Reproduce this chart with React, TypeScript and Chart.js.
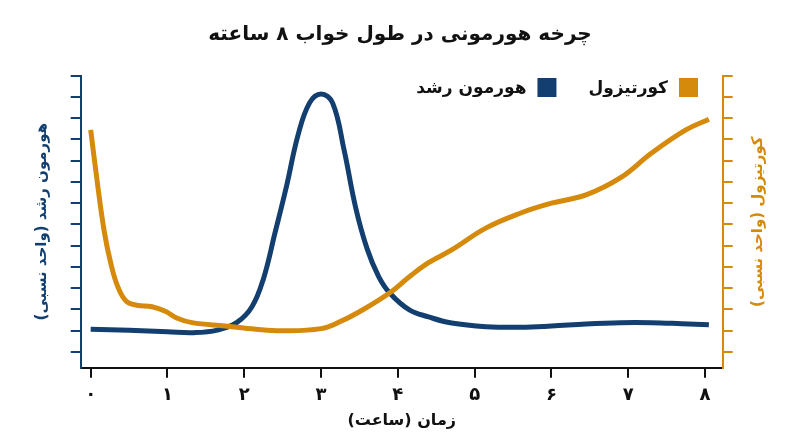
import { useEffect, useRef } from "react";
import { Chart, registerables } from "chart.js";

Chart.register(...registerables);

const GH_COLOR = "#123f6f";
const CORT_COLOR = "#d58a0b";
const INK = "#111111";
const FONT = '"DejaVu Sans", sans-serif';

const chartTitle = "چرخه هورمونی در طول خواب ۸ ساعته";
const xTitle = "زمان (ساعت)";
const leftTitle = "هورمون رشد (واحد نسبی)";
const rightTitle = "کورتیزول (واحد نسبی)";
const ghLabel = "هورمون رشد";
const cortLabel = "کورتیزول";

const hourTicks = [0, 1, 2, 3, 4, 5, 6, 7, 8];
const hourLabels = ["۰", "۱", "۲", "۳", "۴", "۵", "۶", "۷", "۸"];
const levelTicks = [0, 1, 2, 3, 4, 5, 6, 7, 8, 9, 10, 11, 12, 13];

// growth hormone (relative units)
const ghHours = [0, 0.5, 1.0, 1.35, 1.65, 1.9, 2.1, 2.25, 2.4, 2.55, 2.7, 2.85, 3.0, 3.15, 3.3, 3.45, 3.6, 3.75, 3.9, 4.15, 4.4, 4.7, 5.15, 5.6, 6.0, 6.45, 6.9, 7.3, 7.7, 8.05];
const ghValues = [1.07, 1.02, 0.95, 0.91, 1.03, 1.38, 2.13, 3.45, 5.6, 7.8, 10.2, 11.72, 12.14, 11.72, 9.5, 6.8, 4.85, 3.55, 2.75, 1.98, 1.65, 1.36, 1.19, 1.16, 1.22, 1.32, 1.38, 1.38, 1.33, 1.28];

// cortisol (relative units)
const cortHours = [0, 0.1, 0.18, 0.26, 0.35, 0.46, 0.6, 0.8, 0.98, 1.12, 1.32, 1.75, 2.15, 2.5, 3.0, 3.25, 3.55, 3.9, 4.15, 4.4, 4.7, 5.15, 5.6, 6.0, 6.45, 6.9, 7.3, 7.75, 8.05];
const cortValues = [10.45, 7.6, 5.6, 4.2, 3.1, 2.4, 2.2, 2.13, 1.9, 1.6, 1.38, 1.22, 1.07, 1.0, 1.1, 1.43, 2.0, 2.8, 3.54, 4.2, 4.8, 5.84, 6.54, 7.0, 7.39, 8.2, 9.35, 10.45, 10.95];

const toPoints = (xs: number[], ys: number[]) => xs.map((x, i) => ({ x, y: ys[i] }));

// right title (rotated like the left one) and the rtl legend inside the plot
const extrasPlugin = {
  id: "extras",
  afterDraw(chart: any) {
    const { ctx, chartArea } = chart;
    ctx.save();
    ctx.font = `bold 15px ${FONT}`;
    ctx.fillStyle = CORT_COLOR;
    ctx.textAlign = "center";
    ctx.textBaseline = "middle";
    ctx.translate(758, (chartArea.top + chartArea.bottom) / 2);
    ctx.rotate(-Math.PI / 2);
    ctx.fillText(rightTitle, 0, 0);
    ctx.restore();

    ctx.save();
    ctx.font = `bold 17px ${FONT}`;
    ctx.textAlign = "right";
    ctx.textBaseline = "middle";
    let x = 698;
    const box = 19;
    const top = 78;
    chart.data.datasets.forEach((ds: any) => {
      ctx.fillStyle = ds.borderColor;
      ctx.fillRect(x - box, top, box, box);
      ctx.fillStyle = INK;
      const tx = x - box - 11;
      ctx.fillText(ds.label, tx, top + box / 2 + 1);
      x = tx - ctx.measureText(ds.label).width - 32;
    });
    ctx.restore();
  },
};

function yAxis(position: "left" | "right", color: string, width: number, title?: string) {
  return {
    type: "linear" as const,
    position,
    min: -0.74,
    max: 13,
    afterBuildTicks: (s: any) => {
      s.ticks = levelTicks.map((v) => ({ value: v }));
    },
    afterFit: (s: any) => {
      s.width = width;
    },
    ticks: { display: false },
    grid: { drawOnChartArea: false, drawTicks: true, tickLength: 10, color, lineWidth: 2 },
    border: { color, width: 2 },
    title: title
      ? { display: true, text: title, color, font: { size: 15, weight: "bold" as const }, padding: { top: 33, bottom: 0 } }
      : { display: false },
  };
}

export default function App() {
  const canvasRef = useRef<HTMLCanvasElement | null>(null);

  useEffect(() => {
    document.body.style.margin = "0";
    const ctx = canvasRef.current?.getContext("2d");
    if (!ctx) return;
    Chart.defaults.font.family = FONT;

    const chart = new Chart(ctx, {
      type: "line",
      data: {
        datasets: [
          {
            label: cortLabel,
            data: toPoints(cortHours, cortValues),
            borderColor: CORT_COLOR,
            backgroundColor: CORT_COLOR,
            borderWidth: 5,
            pointRadius: 0,
            tension: 0.4,
            yAxisID: "y1",
          },
          {
            label: ghLabel,
            data: toPoints(ghHours, ghValues),
            borderColor: GH_COLOR,
            backgroundColor: GH_COLOR,
            borderWidth: 5,
            pointRadius: 0,
            tension: 0.4,
            yAxisID: "y",
          },
        ],
      },
      options: {
        responsive: false,
        animation: false,
        layout: { padding: 0 },
        plugins: {
          legend: { display: false },
          tooltip: { enabled: false },
          title: {
            display: true,
            text: chartTitle,
            color: INK,
            font: { size: 20, weight: "bold" },
            padding: { top: 23, bottom: 28.7 },
          },
        },
        scales: {
          x: {
            type: "linear",
            min: -0.13,
            max: 8.23,
            afterBuildTicks: (s: any) => {
              s.ticks = hourTicks.map((v) => ({ value: v }));
            },
            afterFit: (s: any) => {
              s.height = 79.3;
            },
            ticks: {
              color: INK,
              font: { size: 18, weight: "bold" },
              padding: 7,
              maxRotation: 0,
              callback: (v: any) => hourLabels[hourTicks.indexOf(Number(v))] ?? "",
            },
            grid: { drawOnChartArea: false, drawTicks: true, tickLength: 10, color: INK, lineWidth: 2 },
            border: { color: INK, width: 2 },
            title: {
              display: true,
              text: xTitle,
              color: INK,
              font: { size: 16, weight: "bold" },
              padding: { top: 0, bottom: 16.4 },
            },
          },
          y: yAxis("left", GH_COLOR, 80.7, leftTitle),
          y1: yAxis("right", CORT_COLOR, 77.3),
        },
      },
      plugins: [extrasPlugin],
    });

    return () => chart.destroy();
  }, []);

  return (
    <div style={{ width: 800, height: 447 }}>
      <canvas ref={canvasRef} width={800} height={447} dir="rtl" />
    </div>
  );
}
